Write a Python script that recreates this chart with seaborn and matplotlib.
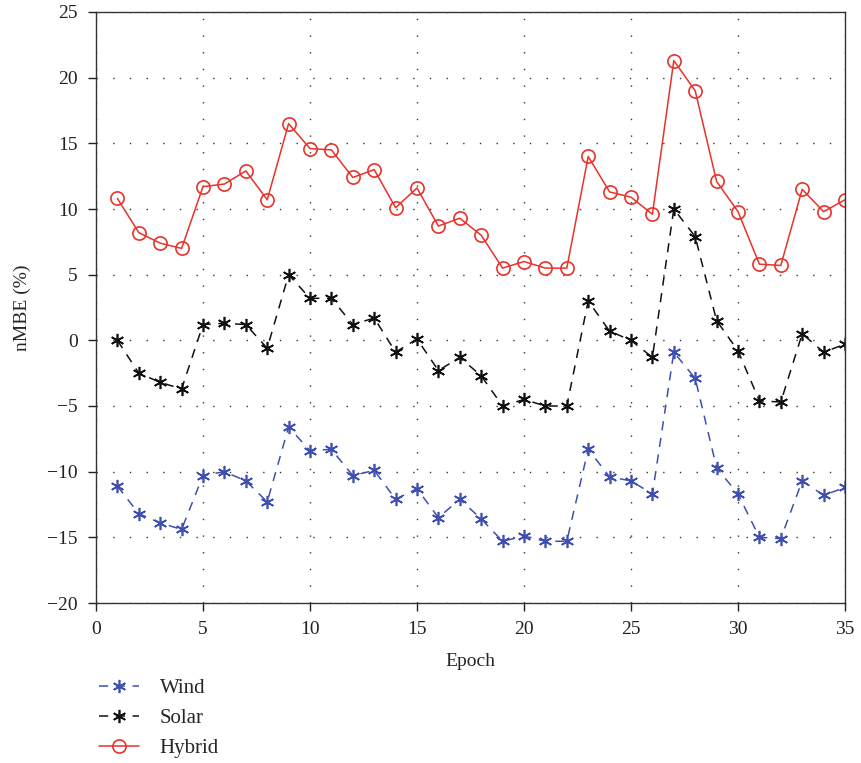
import matplotlib
matplotlib.use("Agg")
import matplotlib.pyplot as plt
import seaborn as sns
import numpy as np
import pandas as pd

epochs = list(range(1, 36))
wind = [-11.1, -13.2, -13.9, -14.4, -10.3, -10.0, -10.7, -12.3, -6.6, -8.4,
        -8.3, -10.3, -9.9, -12.1, -11.3, -13.5, -12.1, -13.6, -15.3, -14.9,
        -15.3, -15.3, -8.3, -10.4, -10.7, -11.7, -0.9, -2.9, -9.7, -11.7,
        -15.0, -15.1, -10.7, -11.8, -11.2]
solar = [0.0, -2.5, -3.2, -3.7, 1.2, 1.3, 1.2, -0.6, 5.0, 3.2,
         3.2, 1.2, 1.7, -0.9, 0.1, -2.3, -1.3, -2.7, -5.0, -4.5,
         -5.0, -5.0, 3.0, 0.7, 0.0, -1.3, 10.0, 7.9, 1.5, -0.8,
         -4.6, -4.7, 0.5, -0.9, -0.3]
hybrid = [10.8, 8.2, 7.4, 7.0, 11.7, 11.9, 12.9, 10.7, 16.5, 14.6,
          14.5, 12.4, 13.0, 10.1, 11.6, 8.7, 9.3, 8.0, 5.5, 6.0,
          5.5, 5.5, 14.0, 11.3, 10.9, 9.6, 21.3, 19.0, 12.1, 9.8,
          5.8, 5.7, 11.5, 9.8, 10.7]
series_names = ["Wind", "Solar", "Hybrid"]
x_ticks = [0, 5, 10, 15, 20, 25, 30, 35]
y_ticks = [-20, -15, -10, -5, 0, 5, 10, 15, 20, 25]

sns.set_style("white")
plt.rcParams['font.family'] = ['Liberation Serif', 'DejaVu Serif']

df = pd.DataFrame({"Epoch": epochs, "Wind": wind, "Solar": solar, "Hybrid": hybrid})

fig = plt.figure(figsize=(8.61, 7.63), dpi=100)
ax = fig.add_axes([96/861, 160/763, (845-96)/861, (603-12)/763])

asterisk = (6, 2, 0)
colors = {"Wind": "#3F4FB0", "Solar": "#111111", "Hybrid": "#E8322A"}
styles = {
    "Wind": dict(linestyle=(0, (6, 5)), marker=asterisk, markersize=9.5),
    "Solar": dict(linestyle=(0, (6, 5)), marker=asterisk, markersize=9.5),
    "Hybrid": dict(linestyle="-", marker="o", markersize=9.5),
}
for name in series_names:
    c = colors[name]
    sns.lineplot(data=df, x="Epoch", y=name, ax=ax, label=name, color=c,
                 markeredgecolor=c, markerfacecolor="none", markeredgewidth=1.2,
                 linewidth=1.1, **styles[name])

ax.set_xlim(0, 35)
ax.set_ylim(-20, 25)
ax.set_xticks(x_ticks)
ax.set_yticks(y_ticks)
ax.set_yticklabels([str(v).replace('-', '\u2212') for v in y_ticks])
ax.grid(True, color="#333333", linestyle=(0, (1, 11)), linewidth=1.0)
for s in ax.spines.values():
    s.set_visible(True)
    s.set_color("#333333")
    s.set_linewidth(1.0)
ax.tick_params(axis="both", direction="out", length=6, width=1, labelsize=14,
               pad=7, colors="#222222", top=False, right=False, bottom=True, left=True)
ax.set_xlabel("Epoch", fontsize=14, labelpad=11)
ax.set_ylabel("nMBE (%)", fontsize=14, labelpad=12)

ax.legend_.remove()
handles, labels = ax.get_legend_handles_labels()
fig.legend(handles, labels, loc="upper left", bbox_to_anchor=(91/861, 1 - 670/763),
           frameon=False, fontsize=15, handlelength=1.9, handletextpad=1.0,
           labelspacing=0.5, borderaxespad=0.0)

fig.savefig("out.png", dpi=100)
